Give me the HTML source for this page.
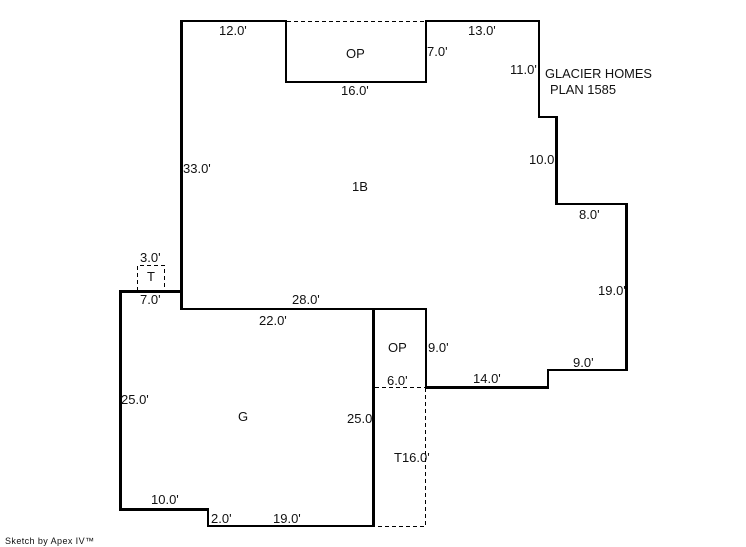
<!DOCTYPE html>
<html><head><meta charset="utf-8"><style>
html,body{margin:0;padding:0;background:#fff;width:746px;height:547px;overflow:hidden}
svg{display:block}
text{font-family:"Liberation Sans",sans-serif;font-size:13px;fill:#111}
</style></head><body>
<svg width="746" height="547" viewBox="0 0 746 547" xmlns="http://www.w3.org/2000/svg">
<g fill="none" stroke="#000" stroke-width="1" stroke-dasharray="4 3" shape-rendering="crispEdges">
<path d="M287 21.5H425"/>
<path d="M137.5 291V265.5H164.5V291"/>
<path d="M375 387.5H426"/>
<path d="M425.5 388V526.5H375"/>
</g>
<g fill="none" stroke="#000" stroke-width="2" shape-rendering="crispEdges" stroke-linejoin="miter">
<path d="M181 21H286V82H426V21H539V117H556"/>
<path d="M426 308V388"/>
<path d="M181 309H427"/>
<path d="M556 204H627M547 370H627M548 369V388"/>
<path d="M208 508V527"/>
<path d="M207 526H375"/>
</g>
<g fill="none" stroke="#000" stroke-width="3" shape-rendering="crispEdges">
<path d="M181.5 20V310"/>
<path d="M119 291.5H183"/>
<path d="M120.5 290V511"/>
<path d="M119 509.5H209"/>
<path d="M373.5 308V527"/>
<path d="M556.5 116V205"/>
<path d="M626.5 203V371"/>
<path d="M425 387.5H549"/>
</g>
<text x="219" y="35">12.0'</text>
<text x="346" y="58">OP</text>
<text x="427" y="56">7.0'</text>
<text x="468" y="35">13.0'</text>
<text x="510" y="74">11.0'</text>
<text x="545" y="78" textLength="107" lengthAdjust="spacingAndGlyphs">GLACIER HOMES</text>
<text x="550" y="94" textLength="66" lengthAdjust="spacingAndGlyphs">PLAN 1585</text>
<text x="341" y="95">16.0'</text>
<text x="529" y="164">10.0</text>
<text x="183" y="173">33.0'</text>
<text x="352" y="191">1B</text>
<text x="579" y="219">8.0'</text>
<text x="140" y="262">3.0'</text>
<text x="147" y="281">T</text>
<text x="598" y="295">19.0'</text>
<text x="140" y="304">7.0'</text>
<text x="292" y="304">28.0'</text>
<text x="259" y="325">22.0'</text>
<text x="388" y="352">OP</text>
<text x="428" y="352">9.0'</text>
<text x="573" y="367">9.0'</text>
<text x="473" y="383">14.0'</text>
<text x="387" y="385">6.0'</text>
<text x="121" y="404">25.0'</text>
<text x="238" y="421">G</text>
<text x="347" y="423">25.0</text>
<text x="394" y="462">T16.0'</text>
<text x="151" y="504">10.0'</text>
<text x="211" y="523">2.0'</text>
<text x="273" y="523">19.0'</text>
<text x="5" y="544" style="font-size:9px" textLength="89" lengthAdjust="spacing">Sketch by Apex IV™</text>
</svg>
</body></html>
